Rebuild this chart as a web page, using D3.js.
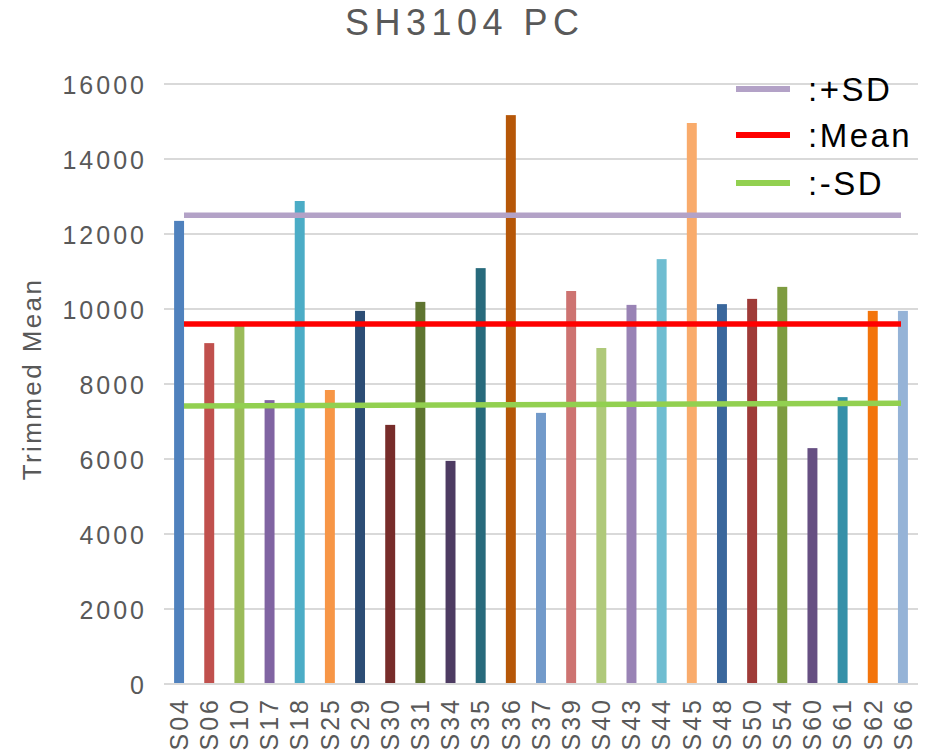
<!DOCTYPE html>
<html>
<head>
<meta charset="utf-8">
<script src="https://cdn.jsdelivr.net/npm/d3@7"></script>
<style>
    body { margin: 0; background: #fff; }
    svg { display: block; }
</style>
</head>
<body>
<svg></svg>
<script>
"use strict"
// dati
const campioni = ["S04", "S06", "S10", "S17", "S18", "S25", "S29", "S30", "S31", "S34", "S35", "S36", "S37",
    "S39", "S40", "S43", "S44", "S45", "S48", "S50", "S54", "S60", "S61", "S62", "S66"];
const valori = [12350, 9090, 9550, 7570, 12880, 7840, 9950, 6910, 10190, 5950, 11090, 15170, 7230,
    10480, 8960, 10110, 11330, 14960, 10130, 10270, 10590, 6290, 7650, 9950, 9950];
const colori = ["#4F81BD", "#C0504D", "#9BBB59", "#8064A2", "#4BACC6", "#F79646", "#2C4D75", "#772C2A", "#5F7530",
    "#4D3B62", "#276A7C", "#B65708", "#729ACA", "#CD7371", "#AFC97A", "#9983B5", "#6FBDD1", "#F9AB6B",
    "#3A679C", "#9F3B38", "#7E9C40", "#664F82", "#3590A8", "#F3740B", "#95B3D7"];
const piuSD = [12500, 12500];
const media = [9600, 9600];
const menoSD = [7415, 7485];
const tickY = [0, 2000, 4000, 6000, 8000, 10000, 12000, 14000, 16000];

const serie = [
    { nome: ":+SD", valori: piuSD, colore: "#B3A2C7" },
    { nome: ":Mean", valori: media, colore: "#FF0000" },
    { nome: ":-SD", valori: menoSD, colore: "#92D050" }
];

const grafico = { w: 931, h: 756 };
const area = { sx: 164, dx: 918, alto: 84, basso: 684 };
const font = "'Liberation Sans', Arial, Helvetica, sans-serif";

const svg = d3.select("svg")
    .attr("width", grafico.w)
    .attr("height", grafico.h);

const scalaX = d3.scaleBand()
    .domain(campioni)
    .range([area.sx, area.dx])
    .paddingInner(0.67)
    .paddingOuter(0.335);

const scalaY = d3.scaleLinear()
    .domain([0, 16000])
    .range([area.basso, area.alto]);

// scala secondaria per le linee orizzontali
const scalaLinee = d3.scaleLinear()
    .domain([0, 1])
    .range([184, 901]);

// titolo
svg.append("text")
    .attr("x", 345)
    .attr("y", 35)
    .attr("font-family", font)
    .attr("font-size", "36px")
    .attr("letter-spacing", "5.5px")
    .attr("fill", "#595959")
    .text("SH3104 PC");

// griglia
svg.append("g")
    .selectAll("line")
    .data(tickY.filter(function (d) { return d > 0 }))
    .enter()
    .append("line")
    .attr("x1", area.sx)
    .attr("x2", area.dx)
    .attr("y1", function (d) { return scalaY(d) })
    .attr("y2", function (d) { return scalaY(d) })
    .attr("stroke", "#D9D9D9")
    .attr("stroke-width", 2);

// asse Y
const asseY = d3.axisLeft(scalaY)
    .tickValues(tickY)
    .tickFormat(d3.format("d"))
    .tickSize(0)
    .tickPadding(17);

const gY = svg.append("g")
    .attr("transform", `translate(${area.sx},0)`)
    .call(asseY);
gY.select(".domain").remove();
gY.selectAll("text")
    .attr("font-family", font)
    .attr("font-size", "25px")
    .attr("letter-spacing", "3px")
    .attr("fill", "#595959")
    .attr("dy", "0.36em");

svg.append("text")
    .attr("transform", "translate(41,379) rotate(-90)")
    .attr("text-anchor", "middle")
    .attr("font-family", font)
    .attr("font-size", "26px")
    .attr("letter-spacing", "2.4px")
    .attr("fill", "#595959")
    .text("Trimmed Mean");

// barre
svg.append("g")
    .selectAll("rect")
    .data(campioni)
    .enter()
    .append("rect")
    .attr("x", function (d) { return scalaX(d) })
    .attr("y", function (d, i) { return scalaY(valori[i]) })
    .attr("width", scalaX.bandwidth())
    .attr("height", function (d, i) { return scalaY(0) - scalaY(valori[i]) })
    .attr("fill", function (d, i) { return colori[i] });

// asse X
const asseX = d3.axisBottom(scalaX)
    .tickSize(0);

const gX = svg.append("g")
    .attr("transform", `translate(0,${area.basso})`)
    .call(asseX);
gX.select(".domain")
    .attr("stroke", "#D9D9D9")
    .attr("stroke-width", 2)
    .attr("d", `M${area.sx},0H${area.dx}`);
gX.selectAll("text")
    .attr("font-family", font)
    .attr("font-size", "25px")
    .attr("letter-spacing", "3px")
    .attr("fill", "#595959")
    .attr("text-anchor", "end")
    .attr("transform", "rotate(-90)")
    .attr("x", -13)
    .attr("y", 0)
    .attr("dy", "0.35em");

// linee media e deviazione standard
const linea = d3.line()
    .x(function (d, i) { return scalaLinee(i) })
    .y(function (d) { return scalaY(d) });

svg.append("g")
    .selectAll("path")
    .data(serie)
    .enter()
    .append("path")
    .attr("d", function (d) { return linea(d.valori) })
    .attr("fill", "none")
    .attr("stroke", function (d) { return d.colore })
    .attr("stroke-width", 5.5);

// legenda
const righeLegenda = [89, 135, 183];
const legenda = svg.append("g")
    .selectAll("g")
    .data(serie)
    .enter()
    .append("g")
    .attr("transform", function (d, i) { return `translate(0,${righeLegenda[i]})` });

legenda.append("line")
    .attr("x1", 736)
    .attr("x2", 790)
    .attr("stroke", function (d) { return d.colore })
    .attr("stroke-width", 6);

legenda.append("text")
    .attr("x", 808)
    .attr("dy", "0.36em")
    .attr("font-family", font)
    .attr("font-size", "33px")
    .attr("letter-spacing", "2.5px")
    .attr("fill", "#000")
    .text(function (d) { return d.nome });
</script>
</body>
</html>
